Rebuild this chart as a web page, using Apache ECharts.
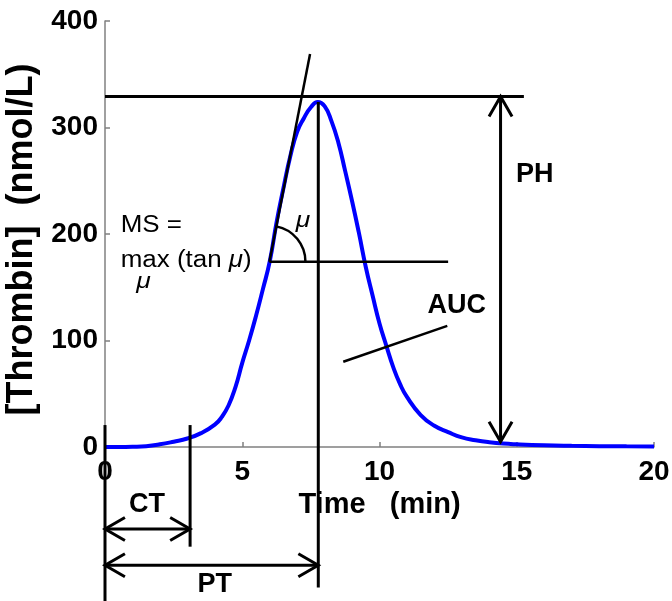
<!DOCTYPE html>
<html>
<head>
<meta charset="utf-8">
<script src="https://cdn.jsdelivr.net/npm/echarts@6/dist/echarts.min.js"></script>
<style>
html,body{margin:0;padding:0;background:#fff;}
#chart{width:672px;height:601px;}
</style>
</head>
<body>
<div id="chart"></div>
<script>
// ---- curve data ----
const timeMin = [0, 0.5, 1, 1.5, 2, 2.5, 3, 3.5, 4, 4.25, 4.5, 4.75, 5, 5.25, 5.5, 5.75, 6, 6.25, 6.5, 6.75, 7, 7.25, 7.5, 7.75, 8, 8.25, 8.5, 8.75, 9, 9.25, 9.5, 9.75, 10, 10.25, 10.5, 10.75, 11, 11.5, 12, 12.5, 13, 13.5, 14, 14.5, 15, 16, 17, 18, 19, 20];
const thrombin = [0, 0, 0.2, 0.8, 2.5, 5, 8, 13, 21, 28, 39, 56, 79, 100, 123, 148, 174, 211, 243, 273, 296, 309, 319, 324, 320, 306, 286, 259, 231, 201, 169, 142, 116, 95, 75, 59, 47, 30, 20, 14, 9, 6.4, 4.5, 3.2, 2.5, 1.6, 1.1, 0.8, 0.6, 0.5];

// ---- axis ticks ----
const xTickStep = 5, xMin = 0, xMax = 20;
const yTickStep = 100, yMin = 0, yMax = 400;

// ---- annotation values (data units) ----
const peakTime = 7.77;
const peakValue = 324;
const phLevel = 329;
const phLineEnd = 15.26;
const phArrowTime = 14.41;
const phArrowBottom = 5;
const ctTime = 3.1;
const markerTop = 20.6;
const zeroLineBottom = -145;
const ctLineBottom = -93.6;
const ptLineBottom = -132;
const ctArrowLevel = -77;
const ptArrowLevel = -111;
const tangentStart = [5.99, 174];
const tangentEnd = [7.47, 369];
const msBaseEnd = 12.5;
const aucLine = [[8.68, 80], [12.47, 113.7]];

const boldLabels = [
  { text: 'CT', at: [1.53, -54.4] },
  { text: 'PT', at: [4.0, -129] },
  { text: 'PH', at: [15.66, 256] },
  { text: 'AUC', at: [12.81, 133] }
];
const msLines = [
  { text: '{n|MS =}', at: [0.57, 208] },
  { text: '{n|max (tan }{i|\u03bc}{n|)}', at: [0.57, 175.3] }
];
const muLabels = [
  { text: '\u03bc', at: [1.40, 155] },
  { text: '\u03bc', at: [7.21, 212.8] }
];

const FONT = '"Liberation Sans", Arial, Helvetica, sans-serif';
const chart = echarts.init(document.getElementById('chart'));

function renderAnnotations(params, api) {
  const c = (p) => api.coord(p);
  const kids = [];
  const line = (pts, w) => kids.push({
    type: 'polyline',
    shape: { points: pts },
    style: { stroke: '#000', lineWidth: w || 3, fill: null }
  });
  const head = (tip, from) => {
    const dx = from[0] - tip[0], dy = from[1] - tip[1];
    const L = Math.sqrt(dx * dx + dy * dy);
    const ux = dx / L, uy = dy / L;
    const len = 23, a = 30 * Math.PI / 180;
    const r = (s) => [tip[0] + len * (ux * Math.cos(s) - uy * Math.sin(s)),
                      tip[1] + len * (ux * Math.sin(s) + uy * Math.cos(s))];
    line([r(a), tip, r(-a)], 3);
  };
  const dblArrow = (p0, p1) => {
    const a = c(p0), b = c(p1);
    line([a, b], 3);
    head(a, b);
    head(b, a);
  };

  line([c([xMin, phLevel]), c([phLineEnd, phLevel])], 3);
  line([c([peakTime, peakValue]), c([peakTime, ptLineBottom])], 3);
  line([c([0, markerTop]), c([0, zeroLineBottom])], 3);
  line([c([ctTime, markerTop]), c([ctTime, ctLineBottom])], 3);
  dblArrow([0, ctArrowLevel], [ctTime, ctArrowLevel]);
  dblArrow([0, ptArrowLevel], [peakTime, ptArrowLevel]);
  dblArrow([phArrowTime, phLevel], [phArrowTime, phArrowBottom]);
  const t0 = c(tangentStart), t1 = c(tangentEnd);
  line([t0, t1], 2.5);
  line([t0, c([msBaseEnd, tangentStart[1]])], 2.5);
  const ang = Math.atan2(t1[1] - t0[1], t1[0] - t0[0]);
  kids.push({
    type: 'arc',
    shape: { cx: t0[0], cy: t0[1], r: 36, startAngle: ang, endAngle: 0, clockwise: true },
    style: { stroke: '#000', lineWidth: 2.5, fill: null }
  });
  line([c(aucLine[0]), c(aucLine[1])], 2.5);

  boldLabels.forEach(l => {
    const p = c(l.at);
    kids.push({ type: 'text', x: p[0], y: p[1], style: {
      text: l.text, x: 0, y: 0, fill: '#000', fontSize: 27, fontWeight: 'bold',
      fontFamily: FONT, align: 'center', verticalAlign: 'middle' } });
  });
  msLines.forEach(l => {
    const p = c(l.at);
    kids.push({ type: 'text', x: p[0], y: p[1], scaleX: 1.18, scaleY: 1.05, style: {
      text: l.text, x: 0, y: 0, fill: '#000', fontSize: 22,
      fontFamily: FONT, align: 'left', verticalAlign: 'middle',
      rich: {
        n: { fontSize: 22, fontFamily: FONT, fill: '#000' },
        i: { fontSize: 22, fontFamily: FONT, fontStyle: 'italic', fill: '#000' }
      } } });
  });
  muLabels.forEach(l => {
    const p = c(l.at);
    kids.push({ type: 'text', x: p[0], y: p[1], scaleX: 1.15, style: {
      text: l.text, x: 0, y: 0, fill: '#000', fontSize: 23, fontStyle: 'italic',
      fontFamily: FONT, align: 'center', verticalAlign: 'middle' } });
  });
  return { type: 'group', children: kids };
}

const option = {
  backgroundColor: '#ffffff',
  animation: false,
  grid: { left: 105, right: 18, top: 21, bottom: 154, containLabel: false, outerBoundsMode: 'none' },
  xAxis: {
    type: 'value', min: xMin, max: xMax, interval: xTickStep,
    name: 'Time   (min)', nameLocation: 'middle', nameGap: 41,
    nameTextStyle: { color: '#000', fontSize: 29, fontWeight: 'bold', fontFamily: FONT },
    axisLine: { show: true, onZero: false, lineStyle: { color: '#808080', width: 1.5 } },
    axisTick: { show: true, inside: true, length: 5, lineStyle: { color: '#808080', width: 1.5 } },
    axisLabel: { color: '#000', fontSize: 28, fontWeight: 'bold', fontFamily: FONT, margin: 11 },
    splitLine: { show: false }
  },
  yAxis: {
    type: 'value', min: yMin, max: yMax, interval: yTickStep,
    name: '[Thrombin]  (nmol/L)', nameLocation: 'middle', nameGap: 64,
    nameTextStyle: { color: '#000', fontSize: 36, fontWeight: 'bold', fontFamily: FONT, padding: [0, 11, 0, 0] },
    axisLine: { show: true, lineStyle: { color: '#808080', width: 1.5 } },
    axisTick: { show: true, inside: true, length: 5, lineStyle: { color: '#808080', width: 1.5 } },
    axisLabel: { color: '#000', fontSize: 28, fontWeight: 'bold', fontFamily: FONT, margin: 7 },
    splitLine: { show: false }
  },
  series: [
    {
      type: 'line',
      data: timeMin.map((t, i) => [t, thrombin[i]]),
      showSymbol: false,
      smooth: 0.5,
      lineStyle: { color: '#0000ff', width: 4 },
      z: 2
    },
    {
      type: 'custom',
      coordinateSystem: 'cartesian2d',
      data: [[0, 0]],
      clip: false,
      silent: true,
      renderItem: renderAnnotations,
      z: 3
    }
  ]
};
chart.setOption(option);
</script>
</body>
</html>
